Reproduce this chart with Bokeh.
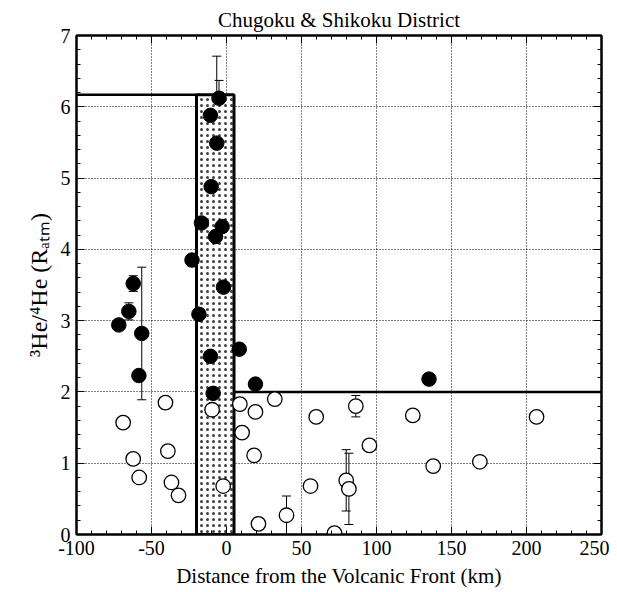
from bokeh.plotting import figure
from bokeh.models import (ColumnDataSource, Whisker, LinearAxis, Range1d, FixedTicker,
                          TeeHead, CustomJSTickFormatter)
from bokeh.embed import file_html
from bokeh.resources import INLINE

# ---------------- data ----------------
# filled circles (high 3He/4He samples)
filled_x = [-71.8, -65.1, -62.2, -56.5, -58.4, -23.0, -18.4, -16.7, -10.7, -8.9,
            -7.3, -2.9, -2.0, -10.2, -6.5, -10.7, -5.0, 8.5, 19.3, 135.0]
filled_y = [2.94, 3.13, 3.52, 2.82, 2.23, 3.85, 3.09, 4.37, 2.50, 1.98,
            4.18, 4.32, 3.47, 4.88, 5.49, 5.88, 6.12, 2.60, 2.11, 2.18]
filled_err = [0.0, 0.12, 0.11, 0.93, 0.0, 0.08, 0.0, 0.14, 0.0, 0.0,
              0.14, 0.10, 0.10, 0.13, 1.22, 0.23, 0.25, 0.0, 0.07, 0.0]

# open circles
open_x = [-68.9, -62.2, -58.2, -40.7, -39.1, -36.7, -32.0, -9.6, -2.2, 8.9,
          10.4, 18.4, 19.3, 21.3, 32.2, 40.0, 56.0, 59.8, 72.0, 79.8,
          81.6, 86.2, 95.3, 124.2, 137.8, 168.9, 206.7]
open_y = [1.57, 1.06, 0.80, 1.85, 1.17, 0.73, 0.55, 1.75, 0.68, 1.83,
          1.43, 1.11, 1.72, 0.15, 1.90, 0.27, 0.68, 1.65, 0.02, 0.76,
          0.64, 1.80, 1.25, 1.67, 0.96, 1.02, 1.65]
open_err = [0.0, 0.0, 0.0, 0.0, 0.0, 0.0, 0.0, 0.0, 0.0, 0.0,
            0.0, 0.0, 0.0, 0.0, 0.08, 0.27, 0.0, 0.0, 0.0, 0.43,
            0.50, 0.15, 0.0, 0.0, 0.0, 0.0, 0.0]

# volcanic-front zone and reference levels
zone_left = -20.0
zone_right = 5.0
fore_level = 6.17          # level on the fore-arc side (x < zone)
back_level = 2.0           # level on the back-arc side (x > zone)
x_min, x_max = -100, 250
y_min, y_max = 0, 7

x_major = list(range(-100, 251, 50))
x_minor = list(range(-100, 251, 10))
x_tick_labels = {-100: "-100", -50: "-50"}
y_major = list(range(0, 8))
y_minor = [i / 5 for i in range(0, 36)]

FONT = "Liberation Serif"

p = figure(width=609, height=590, output_backend="svg", toolbar_location=None,
           x_range=Range1d(x_min, x_max), y_range=Range1d(y_min, y_max),
           min_border_left=76, min_border_right=8, min_border_top=35, min_border_bottom=55)

p.title.text = "Chugoku & Shikoku District"
p.title.align = "center"
p.title.text_font = FONT
p.title.text_font_size = "21px"
p.title.text_font_style = "normal"
p.title.text_color = "black"
p.title.standoff = 8
p.title.offset = 0

p.outline_line_color = "black"
p.outline_line_width = 2
p.background_fill_color = "white"
p.border_fill_color = "white"

def style_axis(ax, labels=True):
    ax.axis_line_color = "black"
    ax.axis_line_width = 2
    ax.major_tick_in = 8
    ax.major_tick_out = 0
    ax.minor_tick_in = 4
    ax.minor_tick_out = 0
    ax.major_tick_line_color = "black"
    ax.minor_tick_line_color = "black"
    ax.major_tick_line_width = 1
    ax.minor_tick_line_width = 1
    if labels:
        ax.major_label_text_font = FONT
        ax.major_label_text_font_size = "20px"
        ax.major_label_text_color = "black"
        ax.major_label_standoff = 6
        ax.axis_label_text_font = FONT
        ax.axis_label_text_font_style = "normal"
        ax.axis_label_text_color = "black"
        ax.axis_label_standoff = 6
    else:
        ax.formatter = CustomJSTickFormatter(code="return '';")
        ax.major_label_standoff = 0

xt = FixedTicker(ticks=x_major, minor_ticks=x_minor)
yt = FixedTicker(ticks=y_major, minor_ticks=y_minor)

p.xaxis.ticker = xt
p.yaxis.ticker = yt
style_axis(p.xaxis[0])
style_axis(p.yaxis[0])
p.xaxis.major_label_overrides = x_tick_labels
p.xaxis.axis_label = "Distance from the Volcanic Front (km)"
p.xaxis.axis_label_text_font_size = "21px"
p.yaxis.axis_label = "³He/⁴He (Rₐₜₘ)"
p.yaxis.axis_label_text_font_size = "24px"

top_ax = LinearAxis(ticker=xt)
style_axis(top_ax, labels=False)
p.add_layout(top_ax, "above")
right_ax = LinearAxis(ticker=yt)
style_axis(right_ax, labels=False)
p.add_layout(right_ax, "right")

p.xgrid.ticker = xt
p.ygrid.ticker = yt
for g in (p.xgrid[0], p.ygrid[0]):
    g.grid_line_color = "black"
    g.grid_line_dash = "1 2"
    g.grid_line_width = 1
    g.grid_line_alpha = 1.0

# zone box (stippled)
p.quad(left=[zone_left], right=[zone_right], bottom=[y_min], top=[fore_level],
       fill_color="white", hatch_pattern="dot", hatch_color="black", hatch_alpha=0.75,
       hatch_scale=6, hatch_weight=1.3, line_color="black", line_width=3)

# reference levels
p.line(x=[x_min, zone_left], y=[fore_level, fore_level], line_color="black", line_width=2.5)
p.line(x=[zone_right, x_max], y=[back_level, back_level], line_color="black", line_width=2.5)

# error bars
def err_source(xs, ys, es):
    bx, lo, hi = [], [], []
    for x, y, e in zip(xs, ys, es):
        if e > 0:
            bx.append(x); lo.append(y - e); hi.append(y + e)
    return ColumnDataSource(dict(base=bx, lower=lo, upper=hi))

for xs, ys, es in ((filled_x, filled_y, filled_err), (open_x, open_y, open_err)):
    src = err_source(xs, ys, es)
    w = Whisker(source=src, base="base", lower="lower", upper="upper", dimension="height",
                line_color="black", line_width=1,
                upper_head=TeeHead(size=9, line_color="black", line_width=1),
                lower_head=TeeHead(size=9, line_color="black", line_width=1))
    p.add_layout(w)

p.scatter(x=open_x, y=open_y, size=14.5, marker="circle", fill_color="white",
          line_color="black", line_width=1.3)
p.scatter(x=filled_x, y=filled_y, size=14.5, marker="circle", fill_color="black",
          line_color="black", line_width=1)

open("out.html", "w").write(file_html(p, INLINE))
